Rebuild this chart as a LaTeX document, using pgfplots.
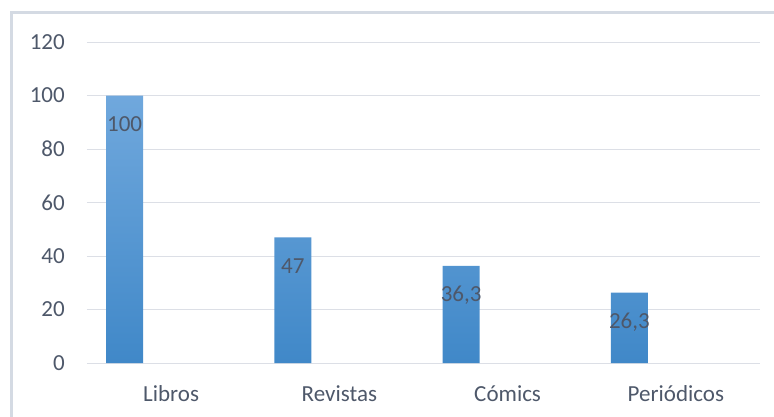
\documentclass[border=0pt]{standalone}
\usepackage{fontspec}
\setmainfont{Carlito}
\usepackage{pgfplots}
\pgfplotsset{compat=1.18}
\definecolor{txt}{RGB}{78,88,106}
\definecolor{gridc}{RGB}{220,223,230}
\definecolor{framec}{RGB}{212,218,227}
\definecolor{bartop}{RGB}{112,168,221}
\definecolor{barbot}{RGB}{64,136,200}
\begin{document}
\begin{tikzpicture}
\useasboundingbox (0pt,0pt) rectangle (774pt,-417pt);
\draw[framec, line width=3pt] (11pt,-420pt) -- (11pt,-13pt) -- (777pt,-13pt);
\begin{axis}[
  at={(87pt,-363pt)}, anchor=south west,
  scale only axis, width=673pt, height=321pt,
  xmin=-0.5, xmax=3.5, ymin=0, ymax=120,
  xtick={0,1,2,3},
  xticklabels={Libros,Revistas,Cómics,Periódicos},
  ytick={0,20,...,120},
  ymajorgrids,
  major grid style={gridc, line width=1pt},
  axis line style={draw=none},
  major tick length=0pt,
  /pgf/number format/assume math mode=true,
  tick label style={font=\fontsize{23}{27}\selectfont, text=txt, inner sep=0pt},
  yticklabel style={anchor=east, xshift=-22pt},
  xticklabel style={anchor=base, yshift=-38pt},
  nodes near coords,
  point meta=explicit symbolic,
  every node near coord/.append style={anchor=base, xshift=-46.5pt, yshift=-36pt, font=\fontsize{23}{27}\selectfont, text=txt, inner sep=0pt},
]
\addplot[ybar, bar width=37pt, bar shift=-46.5pt, draw=none, top color=bartop, bottom color=barbot]
  table[meta=label] {
x y label
0 100 100
1 47 47
2 36.3 36,3
3 26.3 26,3
};
\end{axis}
\end{tikzpicture}
\end{document}
